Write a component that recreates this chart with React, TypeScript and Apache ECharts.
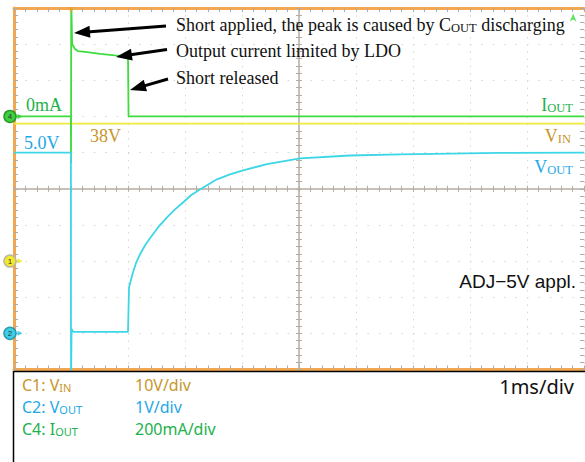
import React, { useEffect, useRef } from 'react';
import * as echarts from 'echarts';

// Time base: 1 ms/div, 10 divisions (ms)
const ioutTime = [0, 0.998, 1.0, 1.004, 1.02, 1.07, 1.12, 1.25, 1.51, 1.77, 2.0, 2.01, 10];
const ioutMilliAmp = [0, 0, -260, 650, 401, 373, 362, 357, 346, 338, 332, 0, 0];

const voutTime = [0, 0.998, 1.0, 1.01, 1.04, 2.0, 2.018, 2.053, 2.088, 2.14, 2.211, 2.298, 2.386, 2.526, 2.684, 2.825, 2.965, 3.105, 3.263, 3.561, 3.789, 4.018, 4.439, 5.018, 5.895, 6.772, 7.649, 8.526, 10];
const voutVolt = [5.0, 5.0, -1.5, 0.12, 0.04, 0.04, 1.27, 1.49, 1.69, 1.94, 2.19, 2.43, 2.63, 2.93, 3.21, 3.43, 3.62, 3.82, 3.98, 4.26, 4.4, 4.51, 4.68, 4.84, 4.92, 4.95, 4.97, 4.99, 5.0];

const vinTime = [0, 10];
const vinVolt = [38, 38];

// channel scales: [unit per div, ground position in divisions from centre]
const ioutScale = [200, 2];
const vinScale = [10, -2];
const voutScale = [1, -4];

const FRAME = '#f5a74f';
const TICK = '#acacac';
const DOT = '#d6d6d6';
const CENTER = '#b5ada2';
const GOLD = '#c8962a';
const CYAN_T = '#1fa8e6';
const GREEN_T = '#22b14c';
const SERIF = '"Liberation Serif", "DejaVu Serif", serif';
const SANS = '"Noto Sans", "Open Sans", sans-serif';
const ARIAL = '"Liberation Sans", Arial, sans-serif';

function chanRange(s: number[]) {
  return { min: (-5 - s[1]) * s[0], max: (5 - s[1]) * s[0] };
}

function arrowEls(tail: number[], tip: number[]) {
  const dx = tip[0] - tail[0];
  const dy = tip[1] - tail[1];
  const len = Math.hypot(dx, dy);
  const ux = dx / len, uy = dy / len;
  const hl = 16, hw = 6;
  const bx = tip[0] - ux * hl, by = tip[1] - uy * hl;
  const px = -uy * hw, py = ux * hw;
  return [
    { type: 'line', shape: { x1: tail[0], y1: tail[1], x2: bx + ux * 3, y2: by + uy * 3 }, style: { stroke: '#000', lineWidth: 3 }, z: 50 },
    { type: 'polygon', shape: { points: [[tip[0], tip[1]], [bx + px, by + py], [bx - px, by - py]] }, style: { fill: '#000' }, z: 50 },
  ];
}

function richLabel(main: string, sub: string, size: number, subSize: number, family: string, color: string, after = '') {
  return {
    text: `{m|${main}}{s|${sub}}` + (after ? `{m|${after}}` : ''),
    rich: {
      m: { fontSize: size, fontFamily: family, fill: color, lineHeight: size, verticalAlign: 'bottom' },
      s: { fontSize: subSize, fontFamily: family, fill: color, lineHeight: subSize + 1, verticalAlign: 'bottom' },
    },
  };
}

function groundMark(label: string, fill: string, ring: string) {
  return {
    silent: true,
    animation: false,
    data: [
      {
        coord: [0, 0], symbol: 'circle', symbolSize: 12, symbolOffset: [-4, 0],
        itemStyle: { color: fill, borderColor: ring, borderWidth: 1.5 },
        label: { show: true, position: 'inside', formatter: label, fontSize: 8, color: '#333', fontFamily: ARIAL },
      },
      {
        coord: [0, 0], symbol: 'triangle', symbolRotate: -90, symbolSize: 5, symbolOffset: [6, 0],
        itemStyle: { color: fill }, label: { show: false },
      },
    ],
  };
}

export default function App() {
  const ref = useRef<HTMLDivElement>(null);
  useEffect(() => {
    if (!ref.current) return;
    const chart = echarts.init(ref.current, null, { renderer: 'svg' });

    const frameBase: any = {
      type: 'value', min: -5, max: 5, interval: 1,
      axisLabel: { show: false },
      axisLine: { show: true, onZero: false, lineStyle: { color: FRAME, width: 3 } },
      axisTick: { show: true, inside: true, length: 4, lineStyle: { color: TICK } },
      minorTick: { show: true, splitNumber: 5, length: 4, lineStyle: { color: TICK } },
      splitLine: { show: false },
    };
    const centerBase = (inside: boolean, showLine: boolean): any => ({
      type: 'value', min: -5, max: 5, interval: 1,
      axisLabel: { show: false },
      axisLine: { show: showLine, onZero: true, onZeroAxisIndex: 0, lineStyle: { color: CENTER, width: 1.5 } },
      axisTick: { show: true, inside, length: 3, lineStyle: { color: CENTER } },
      minorTick: { show: true, splitNumber: 5, length: 3, lineStyle: { color: CENTER } },
      splitLine: { show: false },
    });

    const iR = chanRange(ioutScale);
    const vR = chanRange(vinScale);
    const oR = chanRange(voutScale);

    const option: any = {
      animation: false,
      backgroundColor: '#ffffff',
      grid: { left: 14, top: 8, width: 570, height: 361.5 },
      xAxis: [
        { ...frameBase, position: 'bottom', splitLine: { show: true, lineStyle: { color: DOT, width: 1, type: [1.5, 5.73] } } },
        { ...frameBase, position: 'top' },
        { ...centerBase(true, true), position: 'bottom' },
        { ...centerBase(false, false), position: 'bottom' },
        { type: 'value', min: 0, max: 10, show: false },
      ],
      yAxis: [
        { ...frameBase, position: 'left', splitLine: { show: true, lineStyle: { color: DOT, width: 1, type: [1.5, 9.9] } } },
        { ...frameBase, position: 'right', axisLine: { show: false, onZero: false } },
        { ...centerBase(true, true), position: 'left' },
        { ...centerBase(false, false), position: 'left' },
        { type: 'value', min: iR.min, max: iR.max, show: false },
        { type: 'value', min: vR.min, max: vR.max, show: false },
        { type: 'value', min: oR.min, max: oR.max, show: false },
      ],
      series: [
        {
          name: 'VIN', type: 'line', xAxisIndex: 4, yAxisIndex: 5, showSymbol: false, silent: true,
          data: vinTime.map((t, i) => [t, vinVolt[i]]),
          lineStyle: { color: '#f2ea3a', width: 1.8 }, z: 3,
          markPoint: groundMark('1', '#f2ea2a', '#b8b8a0'),
        },
        {
          name: 'IOUT', type: 'line', xAxisIndex: 4, yAxisIndex: 4, showSymbol: false, silent: true,
          data: ioutTime.map((t, i) => [t, ioutMilliAmp[i]]),
          lineStyle: { color: '#3edc3e', width: 1.8 }, z: 4,
          markPoint: groundMark('4', '#3fd03f', '#2a9a2a'),
        },
        {
          name: 'VOUT', type: 'line', xAxisIndex: 4, yAxisIndex: 6, showSymbol: false, silent: true,
          data: voutTime.map((t, i) => [t, voutVolt[i]]),
          lineStyle: { color: '#3cd6e6', width: 1.8 }, z: 5,
          markPoint: groundMark('2', '#3cd0e6', '#2a9ab0'),
        },
        {
          type: 'scatter', xAxisIndex: 4, yAxisIndex: 4, clip: false, silent: true,
          data: [[1, iR.max]], symbol: 'triangle', symbolRotate: 180, symbolSize: [7, 6], symbolOffset: [0, 2],
          itemStyle: { color: '#f0a040' }, z: 10,
        },
        {
          type: 'scatter', xAxisIndex: 4, yAxisIndex: 4, clip: false, silent: true,
          data: [[9.81, 570]], symbol: 'arrow', symbolSize: [5, 8],
          itemStyle: { color: '#3edc3e' }, z: 10,
        },
      ],
      graphic: [
        ...arrowEls([166, 26], [74, 33]),
        ...arrowEls([167, 49.5], [116, 57]),
        ...arrowEls([168, 79], [130, 90]),
        {
          type: 'text', x: 176, y: 25, z: 50,
          style: { ...richLabel('Short applied, the peak is caused by C', 'OUT', 18, 12.5, SERIF, '#111', ' discharging'), align: 'left', verticalAlign: 'middle' },
        },
        { type: 'text', x: 176, y: 51, z: 50, style: { text: 'Output current limited by LDO', fontSize: 18, fontFamily: SERIF, fill: '#111', align: 'left', verticalAlign: 'middle' } },
        { type: 'text', x: 176, y: 77.5, z: 50, style: { text: 'Short released', fontSize: 18, fontFamily: SERIF, fill: '#111', align: 'left', verticalAlign: 'middle' } },
        { type: 'text', x: 26, y: 105, z: 50, style: { text: '0mA', fontSize: 18, fontFamily: SERIF, fill: GREEN_T, align: 'left', verticalAlign: 'middle' } },
        { type: 'text', x: 24, y: 142.5, z: 50, style: { text: '5.0V', fontSize: 18, fontFamily: SERIF, fill: CYAN_T, align: 'left', verticalAlign: 'middle' } },
        { type: 'text', x: 90, y: 136, z: 50, style: { text: '38V', fontSize: 18, fontFamily: SERIF, fill: GOLD, align: 'left', verticalAlign: 'middle' } },
        { type: 'text', x: 573, y: 105, z: 50, style: { ...richLabel('I', 'OUT', 18, 12.5, SERIF, GREEN_T), align: 'right', verticalAlign: 'middle' } },
        { type: 'text', x: 571, y: 136, z: 50, style: { ...richLabel('V', 'IN', 18, 12.5, SERIF, GOLD), align: 'right', verticalAlign: 'middle' } },
        { type: 'text', x: 573, y: 167, z: 50, style: { ...richLabel('V', 'OUT', 18, 12.5, SERIF, CYAN_T), align: 'right', verticalAlign: 'middle' } },
        { type: 'text', x: 576, y: 281, z: 50, style: { text: 'ADJ\u22125V appl.', fontSize: 19, fontFamily: ARIAL, fill: '#111', align: 'right', verticalAlign: 'middle' } },
        // lower info panel
        { type: 'line', shape: { x1: 14, y1: 371.5, x2: 585, y2: 371.5 }, style: { stroke: '#000', lineWidth: 1.5 }, z: 40 },
        { type: 'line', shape: { x1: 13.5, y1: 371, x2: 13.5, y2: 462 }, style: { stroke: '#000', lineWidth: 1.5 }, z: 40 },
        { type: 'text', x: 22, y: 385, z: 50, style: { ...richLabel('C1: V', 'IN', 16, 11, SANS, GOLD), align: 'left', verticalAlign: 'middle' } },
        { type: 'text', x: 22, y: 407, z: 50, style: { ...richLabel('C2: V', 'OUT', 16, 11, SANS, CYAN_T), align: 'left', verticalAlign: 'middle' } },
        { type: 'text', x: 22, y: 429, z: 50, style: { ...richLabel('C4: I', 'OUT', 16, 11, SANS, GREEN_T), align: 'left', verticalAlign: 'middle' } },
        { type: 'text', x: 135, y: 385, z: 50, style: { text: '10V/div', fontSize: 16, fontFamily: SANS, fill: GOLD, align: 'left', verticalAlign: 'middle' } },
        { type: 'text', x: 135, y: 407, z: 50, style: { text: '1V/div', fontSize: 16, fontFamily: SANS, fill: CYAN_T, align: 'left', verticalAlign: 'middle' } },
        { type: 'text', x: 135, y: 429, z: 50, style: { text: '200mA/div', fontSize: 16, fontFamily: SANS, fill: GREEN_T, align: 'left', verticalAlign: 'middle' } },
        { type: 'text', x: 574, y: 386, z: 50, style: { text: '1ms/div', fontSize: 20, fontFamily: SANS, fill: '#111', align: 'right', verticalAlign: 'middle' } },
      ],
    };
    chart.setOption(option);
    return () => chart.dispose();
  }, []);
  return (
    <div
      ref={ref}
      style={{ position: 'fixed', left: 0, top: 0, width: 585, height: 462, background: '#fff' }}
    />
  );
}
